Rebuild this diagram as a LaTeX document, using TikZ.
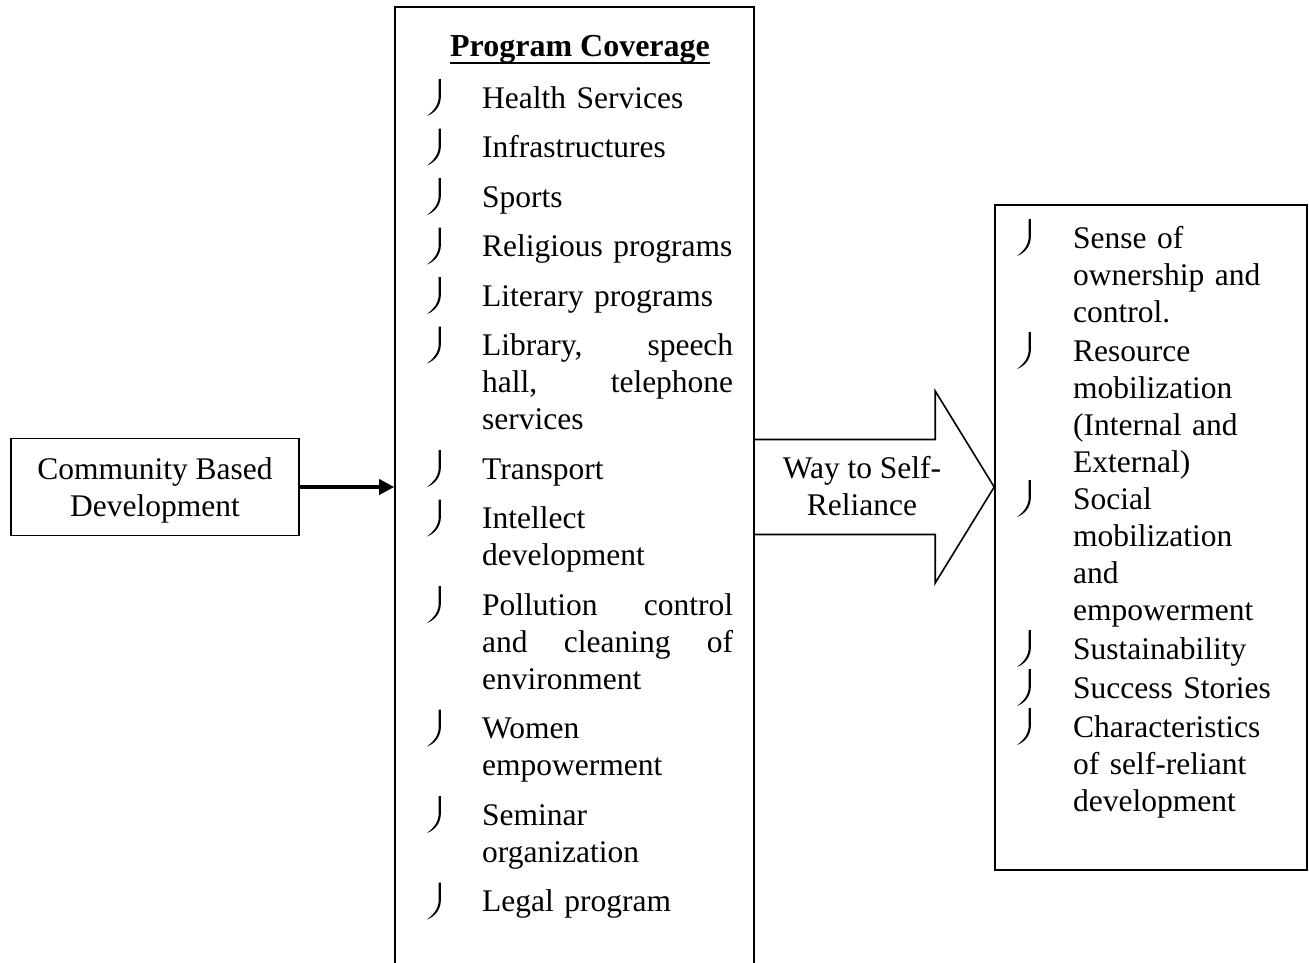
\documentclass[tikz,border=0pt]{standalone}
\usepackage{fontspec}
\setmainfont{Liberation Serif}
\usetikzlibrary{arrows.meta,calc}
\begin{document}
\begin{tikzpicture}[x=1pt,y=-1pt,
  font=\fontsize{31.5}{37}\selectfont,
  box/.style={draw,line width=1.6pt,inner sep=0pt},
  item/.style={anchor=base west,inner sep=0pt,text width=251pt,align=left},
  ritem/.style={anchor=base west,inner sep=0pt,text width=230pt,align=left},
  jbul/.pic={\fill (13.9,-29) -- (13.9,-12) .. controls (13.9,-2) and (8,5) .. (0,8) .. controls (7,2.5) and (11.7,-3) .. (11.7,-12) -- (11.7,-29) -- cycle;}]
\useasboundingbox (0,0) rectangle (1309,962);

% boxes
\node[box,minimum width=359pt,minimum height=968pt] (cov) at (574.5,491) {};
\node[box,minimum width=312pt,minimum height=665pt] (res) at (1151,537.5) {};
\node[box,minimum width=288pt,minimum height=97pt] (cbd) at (155,487) {};
\node[align=center,inner sep=0pt] (cbdtext) at ([yshift=-3.5pt]cbd.center) {Community Based\\Development};

% title
\node[anchor=base,inner sep=0pt,font=\fontsize{32}{37}\selectfont\bfseries] (title) at (580,56) {Program Coverage};
\draw[line width=1.8pt] ([yshift=-7pt]title.base west) -- ([yshift=-7pt]title.base east);

% middle items
\node[item] (m1) at (482,108) {Health Services};
\node[item] (m2) at (482,157.5) {Infrastructures};
\node[item] (m3) at (482,207) {Sports};
\node[item] (m4) at (482,256.5) {Religious programs};
\node[item] (m5) at (482,306) {Literary programs};
\node[item] (m6) at (482,355.5) {Library,\hfill speech\\hall,\hfill telephone\\services};
\node[item] (m7) at (482,479) {Transport};
\node[item] (m8) at (482,528.5) {Intellect\\development};
\node[item] (m9) at (482,615) {Pollution\hfill control\\and\hfill cleaning\hfill of\\environment};
\node[item] (m10) at (482,738.5) {Women\\empowerment};
\node[item] (m11) at (482,825) {Seminar\\organization};
\node[item] (m12) at (482,911.5) {Legal program};
\foreach \n in {m1,m2,m3,m4,m5,m6,m7,m8,m9,m10,m11,m12}
  \path (\n.base west) ++(-55,0) pic {jbul};

% right items
\node[ritem] (r1) at (1073,248) {Sense of\\ownership and\\control.};
\node[ritem] (r2) at (1073,361) {Resource\\mobilization\\(Internal and\\External)};
\node[ritem] (r3) at (1073,509) {Social\\mobilization\\and\\empowerment};
\node[ritem] (r4) at (1073,659) {Sustainability};
\node[ritem] (r5) at (1073,698) {Success Stories};
\node[ritem] (r6) at (1073,737) {Characteristics\\of self-reliant\\development};
\foreach \n in {r1,r2,r3,r4,r5,r6}
  \path (\n.base west) ++(-56,0) pic {jbul};

% thick arrow
\draw[line width=3.5pt,-{Triangle[length=15pt,width=15pt]}] (cbd.east) -- (cbd.east -| cov.west);

% block arrow
\node[align=center,inner sep=0pt] (way) at (862,486) {Way to Self-\\Reliance};
\coordinate (tip) at ($(way.center -| res.west)+(0,1)$);
\coordinate (s1) at ($(tip -| cov.east)+(0,-47.5)$);
\coordinate (s2) at ($(tip -| cov.east)+(0,47.5)$);
\draw[line width=1.6pt,line join=miter] (s1) -- ($(tip)+(-59,-47.5)$) -- ($(tip)+(-59,-96)$) -- (tip) -- ($(tip)+(-59,96)$) -- ($(tip)+(-59,47.5)$) -- (s2);
\end{tikzpicture}
\end{document}
